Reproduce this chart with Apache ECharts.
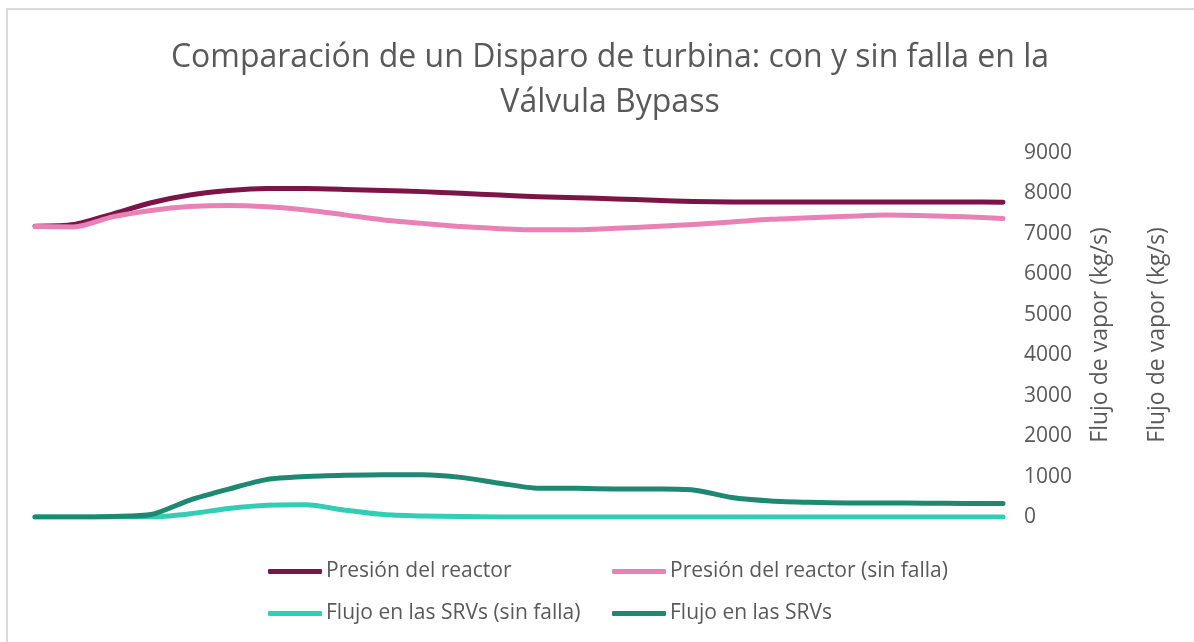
<!DOCTYPE html>
<html>
<head>
<meta charset="utf-8">
<script src="https://cdn.jsdelivr.net/npm/echarts@6/dist/echarts.min.js"></script>
<style>
  html, body { margin: 0; padding: 0; background: #ffffff; }
  #chart { width: 1194px; height: 642px; }
</style>
</head>
<body>
<div id="chart"></div>
<script>
// Time steps along the horizontal axis (no labels shown)
const steps = Array.from({ length: 26 }, (_, i) => String(i + 1));

// Reactor pressure, with the bypass valve failure
const presionReactor = [7190, 7230, 7490, 7770, 7960, 8070, 8120, 8120, 8100, 8070, 8045, 8005, 7960,
  7920, 7895, 7865, 7830, 7800, 7790, 7790, 7790, 7790, 7790, 7790, 7790, 7785];

// Reactor pressure, without failure
const presionSinFalla = [7180, 7170, 7420, 7580, 7675, 7705, 7670, 7590, 7470, 7345, 7260, 7180, 7130,
  7100, 7100, 7140, 7180, 7235, 7295, 7360, 7400, 7435, 7465, 7450, 7425, 7380];

// Flow through the SRVs, without failure
const flujoSinFalla = [0, 0, 0, 0, 80, 210, 290, 300, 170, 60, 25, 10, 0,
  0, 0, 0, 0, 0, 0, 0, 0, 0, 0, 0, 0, 0];

// Flow through the SRVs, with failure
const flujoSRVs = [0, 0, 15, 60, 420, 690, 930, 1000, 1030, 1045, 1045, 980, 835,
  710, 708, 695, 692, 670, 480, 395, 362, 348, 346, 340, 335, 335];

const yTicks = { min: 0, max: 9000, interval: 1000 };

const textColor = '#595959';
const fontFamily = '"Open Sans", sans-serif';

const names = [
  'Presión del reactor',
  'Presión del reactor (sin falla)',
  'Flujo en las SRVs (sin falla)',
  'Flujo en las SRVs'
];
const colors = ['#7B1548', '#E882B6', '#33CCB4', '#1E8872'];
const values = [presionReactor, presionSinFalla, flujoSinFalla, flujoSRVs];

// legend entries laid out in two rows of two
const legendSpots = [
  { left: 268, top: 561 },
  { left: 612, top: 561 },
  { left: 268, top: 603 },
  { left: 612, top: 603 }
];

const chart = echarts.init(document.getElementById('chart'), null, { renderer: 'canvas' });

chart.setOption({
  backgroundColor: '#ffffff',
  animation: false,
  title: {
    text: 'Comparación de un Disparo de turbina: con y sin falla en la\nVálvula Bypass',
    left: 605,
    top: 30,
    textAlign: 'center',
    textStyle: {
      color: textColor,
      fontFamily: fontFamily,
      fontSize: 32,
      fontWeight: 'normal',
      lineHeight: 45
    }
  },
  graphic: [{
    type: 'rect',
    shape: { x: 7, y: 9, width: 1300, height: 800 },
    style: { fill: 'none', stroke: '#d9d9d9', lineWidth: 2 },
    silent: true,
    z: -1
  }],
  legend: legendSpots.map((spot, i) => ({
    data: [names[i]],
    left: spot.left,
    top: spot.top,
    icon: 'roundRect',
    itemWidth: 54,
    itemHeight: 5,
    itemGap: 0,
    padding: 0,
    textStyle: {
      color: textColor,
      fontFamily: fontFamily,
      fontSize: 21,
      padding: [0, 0, 0, -1]
    }
  })),
  grid: {
    left: 35,
    right: 191,
    top: 153,
    bottom: 125,
    containLabel: false
  },
  xAxis: {
    type: 'category',
    data: steps,
    boundaryGap: false,
    show: false
  },
  yAxis: [
    {
      type: 'value',
      position: 'right',
      min: yTicks.min,
      max: yTicks.max,
      interval: yTicks.interval,
      name: 'Flujo de vapor (kg/s)',
      nameLocation: 'middle',
      nameRotate: 90,
      nameGap: 86,
      nameTextStyle: { color: textColor, fontFamily: fontFamily, fontSize: 23 },
      axisLine: { show: false },
      axisTick: { show: false },
      splitLine: { show: false },
      axisLabel: {
        color: textColor,
        fontFamily: fontFamily,
        fontSize: 21,
        margin: 21,
        formatter: (v) => String(v)
      }
    },
    {
      type: 'value',
      position: 'right',
      min: yTicks.min,
      max: yTicks.max,
      interval: yTicks.interval,
      name: 'Flujo de vapor (kg/s)',
      nameLocation: 'middle',
      nameRotate: 90,
      nameGap: 143,
      nameTextStyle: { color: textColor, fontFamily: fontFamily, fontSize: 23 },
      axisLine: { show: false },
      axisTick: { show: false },
      splitLine: { show: false },
      axisLabel: { show: false }
    }
  ],
  series: values.map((v, i) => ({
    name: names[i],
    type: 'line',
    data: v,
    yAxisIndex: 0,
    smooth: 0.25,
    showSymbol: false,
    symbol: 'none',
    lineStyle: { color: colors[i], width: 5, cap: 'round', join: 'round' },
    itemStyle: { color: colors[i] },
    z: i === 2 ? 1 : 2
  }))
});
</script>
</body>
</html>
